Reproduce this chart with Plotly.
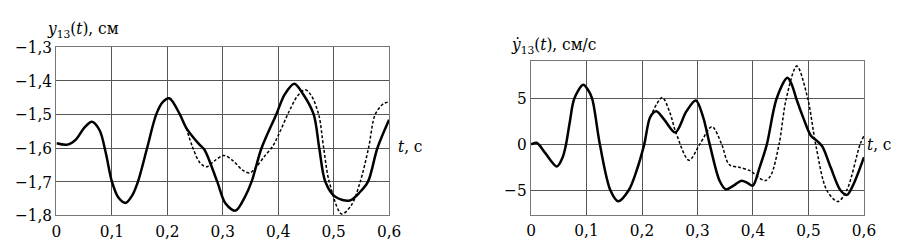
import plotly.graph_objects as go

# Left chart: y13(t), cm
t_y_solid = [0.000, 0.020, 0.035, 0.050, 0.064, 0.078, 0.089, 0.100, 0.112, 0.125, 0.137, 0.147,
             0.1635, 0.180, 0.192, 0.2035, 0.2226, 0.234, 0.258, 0.267, 0.290, 0.305, 0.323, 0.340,
             0.352, 0.370, 0.3965, 0.412, 0.429, 0.445, 0.464, 0.474, 0.485, 0.503, 0.529, 0.548,
             0.562, 0.579, 0.600]
y_solid = [-1.586, -1.590, -1.575, -1.540, -1.522, -1.548, -1.615, -1.700, -1.748, -1.763, -1.740, -1.700,
           -1.600, -1.500, -1.463, -1.452, -1.500, -1.540, -1.590, -1.605, -1.700, -1.765, -1.786, -1.745,
           -1.700, -1.600, -1.500, -1.440, -1.409, -1.440, -1.500, -1.600, -1.700, -1.745, -1.756, -1.730,
           -1.700, -1.600, -1.516]

t_y_dash = [0.234, 0.245, 0.258, 0.270, 0.285, 0.302, 0.320, 0.335, 0.349, 0.360, 0.375, 0.390,
            0.400, 0.420, 0.435, 0.449, 0.460, 0.473, 0.482, 0.492, 0.5145, 0.532, 0.548, 0.563,
            0.575, 0.590, 0.600]
y_dash = [-1.540, -1.595, -1.642, -1.656, -1.638, -1.622, -1.640, -1.665, -1.674, -1.657, -1.625, -1.595,
          -1.563, -1.490, -1.445, -1.427, -1.445, -1.500, -1.600, -1.700, -1.796, -1.770, -1.700, -1.600,
          -1.500, -1.468, -1.463]

# Right chart: dy13/dt, cm/s
t_v_solid = [0.000, 0.010, 0.025, 0.0465, 0.057, 0.063, 0.070, 0.078, 0.094, 0.102, 0.110, 0.124,
             0.143, 0.157, 0.176, 0.190, 0.204, 0.215, 0.2258, 0.240, 0.260, 0.280, 0.297, 0.310,
             0.322, 0.340, 0.351, 0.365, 0.379, 0.390, 0.3997, 0.412, 0.425, 0.4426, 0.462, 0.470,
             0.478, 0.490, 0.5045, 0.515, 0.525, 0.540, 0.5576, 0.5694, 0.580, 0.600]
v_solid = [0.0, 0.17, -0.9, -2.4, -1.4, 0.0, 2.5, 5.0, 6.5, 6.0, 5.0, 0.0,
           -5.0, -6.2, -5.0, -2.9, 0.0, 3.0, 3.6, 2.7, 1.3, 3.6, 4.77, 3.0,
           0.0, -4.0, -4.9, -4.5, -3.96, -4.2, -4.5, -2.5, 0.0, 5.0, 7.27, 6.5,
           5.0, 3.0, 0.93, 0.4, -0.23, -2.5, -5.0, -5.5, -4.5, -1.4]

t_v_dash = [0.215, 0.2364, 0.250, 0.261, 0.2847, 0.304, 0.326, 0.3436, 0.357, 0.375, 0.3955, 0.410,
            0.422, 0.432, 0.447, 0.460, 0.479, 0.4987, 0.513, 0.533, 0.553, 0.569, 0.593, 0.600]
v_dash = [3.0, 5.1, 3.5, 1.3, -1.73, 0.0, 1.93, 0.0, -2.2, -2.5, -2.9, -3.6,
          -3.95, -3.4, 0.0, 5.0, 8.53, 5.0, 0.0, -5.0, -6.23, -5.0, 0.0, 0.93]

x_ticks = [0, 0.1, 0.2, 0.3, 0.4, 0.5, 0.6]
x_tick_text = ["0", "0,1", "0,2", "0,3", "0,4", "0,5", "0,6"]
y_ticks = [-1.3, -1.4, -1.5, -1.6, -1.7, -1.8]
y_tick_text = ["\u22121,3", "\u22121,4", "\u22121,5", "\u22121,6", "\u22121,7", "\u22121,8"]
v_ticks = [5, 0, -5]
v_tick_text = ["5", "0", "\u22125"]

FONT = "DejaVu Serif Condensed"
fig = go.Figure()

fig.add_trace(go.Scatter(x=t_y_dash, y=y_dash, mode="lines", xaxis="x", yaxis="y",
                         line=dict(color="black", width=1.5, dash="3px,2px", shape="spline", smoothing=0.9)))
fig.add_trace(go.Scatter(x=t_y_solid, y=y_solid, mode="lines", xaxis="x", yaxis="y",
                         line=dict(color="black", width=2.5, shape="spline", smoothing=0.9)))
fig.add_trace(go.Scatter(x=t_v_dash, y=v_dash, mode="lines", xaxis="x2", yaxis="y2",
                         line=dict(color="black", width=1.5, dash="3px,2px", shape="spline", smoothing=0.9)))
fig.add_trace(go.Scatter(x=t_v_solid, y=v_solid, mode="lines", xaxis="x2", yaxis="y2",
                         line=dict(color="black", width=2.5, shape="spline", smoothing=0.9)))

W, H = 902, 243
def px_x(p):
    return p / W
def px_y(p):
    return (H - p) / H

axis_common = dict(showgrid=True, gridcolor="#555555", gridwidth=1, showline=True, linecolor="#777777",
                   linewidth=1, mirror=True, ticks="", zeroline=False,
                   tickfont=dict(family=FONT, size=17, color="black"))

fig.update_layout(
    width=W, height=H, margin=dict(l=0, r=0, t=0, b=0),
    paper_bgcolor="white", plot_bgcolor="white", showlegend=False,
    font=dict(family=FONT, size=17, color="black"),
    xaxis=dict(domain=[px_x(44.3), px_x(383.3)], range=[0, 0.6], tickvals=x_ticks, ticktext=x_tick_text,
               anchor="y", **axis_common),
    yaxis=dict(domain=[px_y(215), px_y(31.7)], range=[-1.8, -1.3], tickvals=y_ticks, ticktext=y_tick_text,
               anchor="x", **axis_common),
    xaxis2=dict(domain=[px_x(528), px_x(867.3)], range=[0, 0.6], tickvals=x_ticks, ticktext=x_tick_text,
                anchor="y2", **axis_common),
    yaxis2=dict(domain=[px_y(214.3), px_y(46.7)], range=[-7.66, 9.1], tickvals=v_ticks, ticktext=v_tick_text,
                anchor="x2", **axis_common),
)

ann_font = dict(family=FONT, size=17, color="black")
fig.add_annotation(text="<i>y</i><sub>13</sub>(<i>t</i>), см", xref="paper", yref="paper",
                   x=px_x(33), y=px_y(12), xanchor="left", yanchor="middle", showarrow=False, font=ann_font)
fig.add_annotation(text="<i>t</i>, с", xref="paper", yref="paper",
                   x=px_x(390), y=px_y(140), xanchor="left", yanchor="middle", showarrow=False, font=ann_font)
fig.add_annotation(text="<i>\u1e8f</i><sub>13</sub>(<i>t</i>), см/с", xref="paper", yref="paper",
                   x=px_x(506), y=px_y(30), xanchor="left", yanchor="middle", showarrow=False, font=ann_font)
fig.add_annotation(text="<i>t</i>, с", xref="paper", yref="paper",
                   x=px_x(868), y=px_y(137), xanchor="left", yanchor="middle", showarrow=False, font=ann_font)

fig.write_html("out.html")
